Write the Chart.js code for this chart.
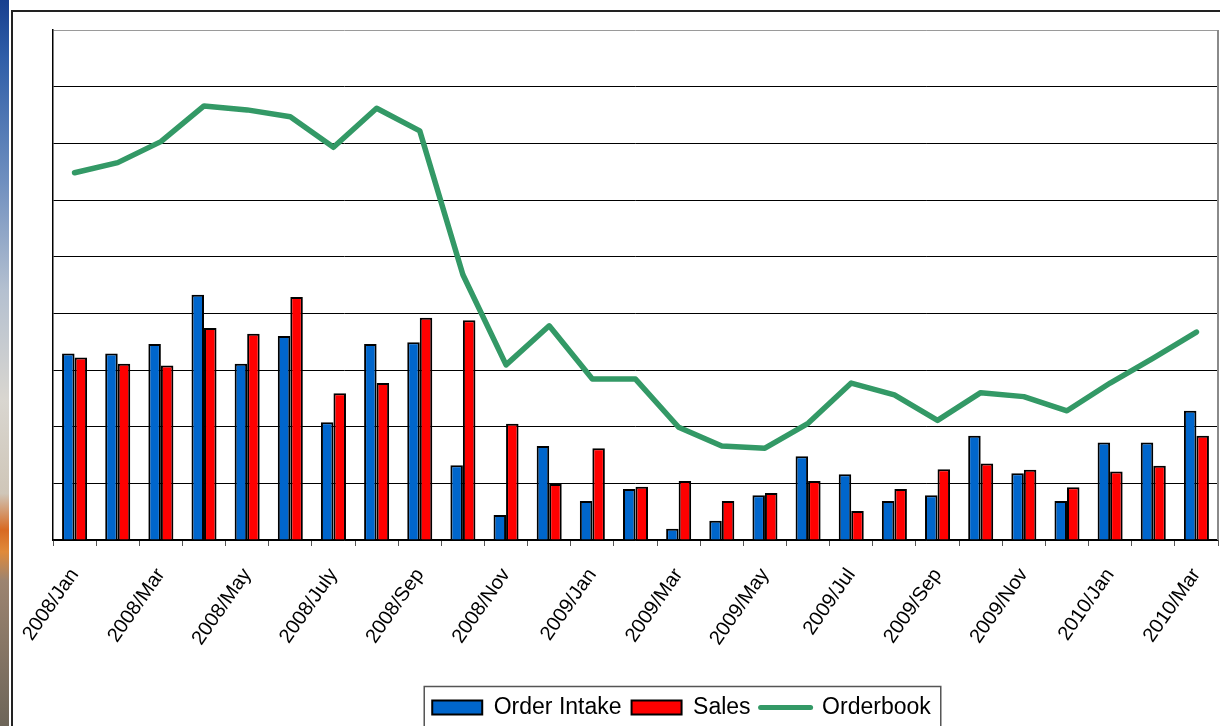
<!DOCTYPE html>
<html>
<head>
<meta charset="utf-8">
<script src="https://cdn.jsdelivr.net/npm/chart.js@4/dist/chart.umd.min.js"></script>
<style>
html,body{margin:0;padding:0;background:#fff;}
#wrap{position:relative;width:1220px;height:726px;overflow:hidden;background:#fff;}
#strip{position:absolute;left:0;top:0;width:9px;height:726px;
  background:linear-gradient(to bottom,#173f8f 0%,#2f5ea8 8%,#6f8fbf 25%,#b4c0d0 40%,#d9d6d0 55%,#cfc6b8 68%,#d86a22 73%,#e08a3a 76%,#9c8470 80%,#6d6558 100%);}
#frame{position:absolute;left:11px;top:10px;width:1300px;height:800px;border-left:2px solid #222;border-top:2px solid #222;}
canvas{position:absolute;left:0;top:0;}
</style>
</head>
<body>
<div id="wrap">
  <div id="strip"></div>
  <div id="frame"></div>
  <canvas id="c" width="1220" height="726"></canvas>
</div>
<script>
const months = ["2008/Jan","2008/Feb","2008/Mar","2008/Apr","2008/May","2008/Jun","2008/July","2008/Aug","2008/Sep","2008/Oct","2008/Nov","2008/Dec",
  "2009/Jan","2009/Feb","2009/Mar","2009/Apr","2009/May","2009/Jun","2009/Jul","2009/Aug","2009/Sep","2009/Oct","2009/Nov","2009/Dec",
  "2010/Jan","2010/Feb","2010/Mar"];
const orderIntake = [3.29,3.29,3.46,4.33,3.11,3.60,2.08,3.46,3.49,1.32,0.44,1.66,
  0.69,0.90,0.20,0.34,0.79,1.48,1.16,0.69,0.79,1.84,1.18,0.69,1.72,1.72,2.28];
const sales = [3.22,3.11,3.08,3.74,3.64,4.29,2.59,2.77,3.92,3.88,2.05,0.99,
  1.62,0.94,1.04,0.69,0.83,1.04,0.51,0.90,1.25,1.35,1.24,0.93,1.21,1.31,1.84];
const orderbook = [6.48,6.66,7.03,7.66,7.59,7.47,6.93,7.62,7.22,4.68,3.09,3.78,
  2.84,2.84,1.99,1.66,1.62,2.06,2.77,2.56,2.11,2.60,2.53,2.28,2.77,3.21,3.67];
const yMin = 0, yMax = 9, yStep = 1;

const LEGEND_DX = 46, LEGEND_DY = 3;

const framePlugin = {
  id: 'framePlugin',
  afterLayout(chart) {
    const lg = chart.legend;
    if (lg) { lg.left += LEGEND_DX; lg.right += LEGEND_DX; lg.top += LEGEND_DY; lg.bottom += LEGEND_DY; }
  },
  afterDraw(chart) {
    const ctx = chart.ctx, a = chart.chartArea;
    ctx.save();
    ctx.strokeStyle = '#8a8a8a';
    ctx.lineWidth = 2;
    ctx.beginPath();
    ctx.moveTo(a.right, a.top);
    ctx.lineTo(a.right, a.bottom);
    ctx.stroke();
    const hb = chart.legend.legendHitBoxes;
    if (hb && hb.length) {
      const first = hb[0], last = hb[hb.length - 1];
      const cy = first.top + first.height / 2;
      const x0 = first.left - 8, x1 = last.left + last.width + 10;
      ctx.strokeStyle = '#555';
      ctx.lineWidth = 1.5;
      ctx.beginPath();
      ctx.moveTo(x0, 740);
      ctx.lineTo(x0, cy - 21);
      ctx.lineTo(x1, cy - 21);
      ctx.lineTo(x1, 740);
      ctx.stroke();
    }
    ctx.restore();
  }
};

new Chart(document.getElementById('c'), {
  type: 'bar',
  data: {
    labels: months,
    datasets: [
      { label: 'Order Intake', data: orderIntake, backgroundColor: '#0066CC', borderColor: '#000', borderWidth: 2,
        categoryPercentage: 0.58, barPercentage: 1.0 },
      { label: 'Sales', data: sales, backgroundColor: '#FF0000', borderColor: '#000', borderWidth: 2,
        categoryPercentage: 0.58, barPercentage: 1.0 },
      { type: 'line', label: 'Orderbook', data: orderbook, borderColor: '#339966', backgroundColor: '#339966',
        borderWidth: 5.5, pointRadius: 0, tension: 0, borderCapStyle: 'round', borderJoinStyle: 'round' }
    ]
  },
  options: {
    responsive: false,
    animation: false,
    layout: { padding: { left: 53, right: 2, top: 30, bottom: 0 } },
    scales: {
      x: {
        grid: { offset: true, drawOnChartArea: false, drawTicks: true, tickLength: 6, color: '#555', lineWidth: 1 },
        border: { color: '#000', width: 1.5 },
        ticks: {
          autoSkip: false, maxRotation: 55, minRotation: 55, padding: 18,
          font: { family: 'Liberation Sans', size: 20 }, color: '#000',
          callback: (v, i) => (i % 2 === 0 ? months[i] : '')
        },
        afterFit: s => { s.height = 143; s.paddingLeft = 0; s.paddingRight = 0; }
      },
      y: {
        min: yMin, max: yMax,
        ticks: { display: false, stepSize: yStep },
        grid: { drawTicks: false, lineWidth: 1, color: c => (c.tick && c.tick.value === yMax ? '#9a9a9a' : '#000') },
        border: { color: '#000', width: 1.5 },
        afterFit: s => { s.width = 0; }
      }
    },
    plugins: {
      tooltip: { enabled: false },
      legend: {
        position: 'bottom',
        labels: {
          usePointStyle: true, pointStyleWidth: 50, boxHeight: 14, padding: 10,
          font: { family: 'Liberation Sans', size: 23 }, color: '#000',
          generateLabels: chart => {
            const items = Chart.defaults.plugins.legend.labels.generateLabels(chart);
            items.forEach(it => {
              const ds = chart.data.datasets[it.datasetIndex];
              if (ds.type === 'line') {
                it.pointStyle = 'line'; it.strokeStyle = ds.borderColor; it.lineWidth = 5; it.lineCap = 'round';
              } else {
                it.pointStyle = 'rect'; it.fillStyle = ds.backgroundColor; it.strokeStyle = '#000'; it.lineWidth = 2;
              }
            });
            return items;
          }
        }
      }
    }
  },
  plugins: [framePlugin]
});
</script>
</body>
</html>
